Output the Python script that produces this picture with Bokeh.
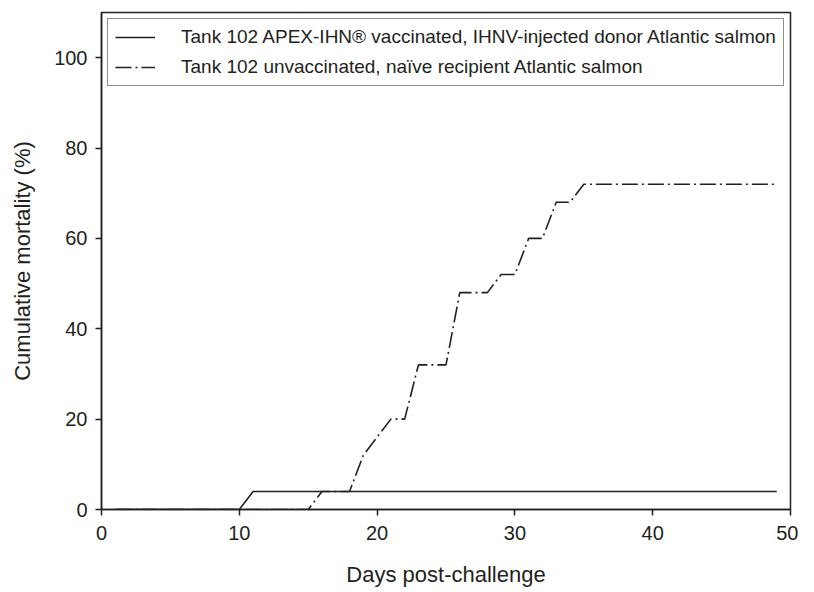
from bokeh.plotting import figure
from bokeh.models import Range1d, FixedTicker, Legend, LegendItem
from bokeh.embed import file_html
from bokeh.resources import INLINE

days = [1, 2, 3, 4, 5, 6, 7, 8, 9, 10,
        11, 12, 13, 14, 15, 16, 17, 18, 19, 20,
        21, 22, 23, 24, 25, 26, 27, 28, 29, 30,
        31, 32, 33, 34, 35, 36, 37, 38, 39, 40,
        41, 42, 43, 44, 45, 46, 47, 48, 49]

vaccinated = [0, 0, 0, 0, 0, 0, 0, 0, 0, 0,
              4, 4, 4, 4, 4, 4, 4, 4, 4, 4,
              4, 4, 4, 4, 4, 4, 4, 4, 4, 4,
              4, 4, 4, 4, 4, 4, 4, 4, 4, 4,
              4, 4, 4, 4, 4, 4, 4, 4, 4]

unvaccinated = [0, 0, 0, 0, 0, 0, 0, 0, 0, 0,
                0, 0, 0, 0, 0, 4, 4, 4, 12, 16,
                20, 20, 32, 32, 32, 48, 48, 48, 52, 52,
                60, 60, 68, 68, 72, 72, 72, 72, 72, 72,
                72, 72, 72, 72, 72, 72, 72, 72, 72]

x_ticks = [0, 10, 20, 30, 40, 50]
y_ticks = [0, 20, 40, 60, 80, 100]

label_vacc = "Tank 102 APEX-IHN\u00ae vaccinated, IHNV-injected donor Atlantic salmon"
label_unvacc = "Tank 102 unvaccinated, na\u00efve recipient Atlantic salmon"

FONT = "Liberation Sans"
INK = "#231f20"

p = figure(width=798, height=592, output_backend="svg", toolbar_location=None,
           x_range=Range1d(0, 50), y_range=Range1d(0, 110),
           min_border_left=101, min_border_right=8, min_border_top=12, min_border_bottom=83)

p.xgrid.visible = False
p.ygrid.visible = False
p.outline_line_color = INK
p.outline_line_width = 1.5
p.outline_line_alpha = 1.0
p.background_fill_color = "white"
p.border_fill_color = "white"

r1 = p.line(days, vaccinated, line_color=INK, line_width=1.6)
r2 = p.line(days, unvaccinated, line_color=INK, line_width=1.6, line_dash="16 4 2 4")

for ax, ticks in ((p.xaxis[0], x_ticks), (p.yaxis[0], y_ticks)):
    ax.ticker = FixedTicker(ticks=ticks)
    ax.minor_tick_line_color = None
    ax.major_tick_in = 0
    ax.major_tick_out = 6
    ax.major_tick_line_color = INK
    ax.major_tick_line_width = 1.5
    ax.axis_line_color = INK
    ax.axis_line_width = 1.5
    ax.major_label_text_font = FONT
    ax.major_label_text_font_size = "20px"
    ax.major_label_text_color = INK
    ax.axis_label_text_font = FONT
    ax.axis_label_text_font_size = "22px"
    ax.axis_label_text_font_style = "normal"
    ax.axis_label_text_color = INK

p.xaxis.axis_label = "Days post-challenge"
p.yaxis.axis_label = "Cumulative mortality (%)"
p.xaxis.major_label_standoff = 10
p.xaxis.axis_label_standoff = 19
p.yaxis.major_label_standoff = 8
p.yaxis.axis_label_standoff = 16

legend = Legend(items=[LegendItem(label=label_vacc, renderers=[r1]),
                       LegendItem(label=label_unvacc, renderers=[r2])],
                location="top_left")
legend.margin = 6
legend.padding = 7
legend.spacing = 8
legend.glyph_width = 40
legend.glyph_height = 22
legend.label_height = 22
legend.label_standoff = 26
legend.label_text_font = FONT
legend.label_text_font_size = "19px"
legend.label_text_color = INK
legend.border_line_color = INK
legend.border_line_width = 1.5
legend.background_fill_color = "white"
legend.background_fill_alpha = 1.0
p.add_layout(legend)

open("out.html", "w").write(file_html(p, INLINE))
